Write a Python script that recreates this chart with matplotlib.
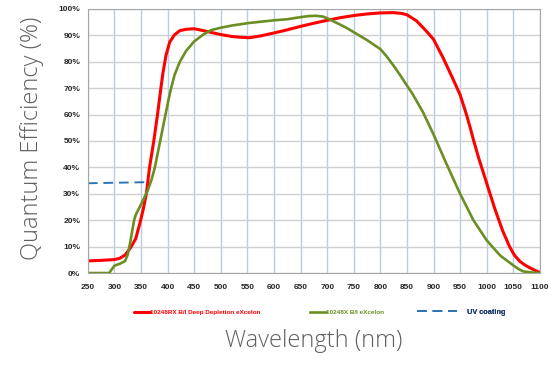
import numpy as np
import matplotlib
matplotlib.use("Agg")
import matplotlib.pyplot as plt

# Red curve: 10248RX B/I Deep Depletion eXcelon
red_nm = [250, 275, 300, 310, 320, 330, 340, 348, 354, 360, 366, 374, 381, 387, 391, 397,
          404, 413, 423, 435, 450, 467, 482, 500, 520, 535, 554, 575, 600, 625, 650, 675,
          700, 725, 750, 775, 800, 825, 840, 850, 868, 887, 900, 918, 937, 950, 962, 970,
          975, 985, 1000, 1015, 1030, 1043, 1052, 1062, 1072, 1081, 1090, 1100]
red_qe = [4.6, 4.8, 5.1, 5.6, 6.8, 9.5, 13.0, 19.0, 24.0, 30.0, 40.0, 50.0, 60.0, 69.5, 75.5, 82.5,
          87.5, 90.2, 91.8, 92.3, 92.5, 91.8, 91.1, 90.3, 89.6, 89.3, 89.1, 89.8, 90.9, 92.1, 93.4, 94.6,
          95.7, 96.7, 97.5, 98.1, 98.5, 98.6, 98.3, 97.8, 95.5, 91.5, 88.5, 81.5, 73.3, 67.5, 60.0, 54.3,
          50.5, 43.5, 34.0, 24.5, 16.0, 10.0, 6.8, 4.5, 3.0, 2.0, 1.1, 0.2]

# Green curve: 10248X B/I eXcelon
green_nm = [250, 290, 300, 310, 320, 325, 330, 337, 340, 345, 350, 356, 363, 370, 376, 381,
            386, 391, 396, 401, 406, 413, 423, 435, 450, 467, 482, 500, 523, 554, 600, 625,
            650, 665, 680, 692, 700, 717, 735, 750, 775, 800, 812, 825, 837, 850, 860, 880,
            900, 924, 950, 975, 1000, 1025, 1050, 1060, 1069, 1085, 1100]
green_qe = [0.0, 0.0, 2.8, 3.5, 4.5, 7.0, 12.0, 20.0, 22.0, 24.0, 26.0, 28.5, 31.5, 35.5, 40.0, 45.0,
            50.0, 55.0, 60.0, 65.0, 69.5, 75.0, 80.0, 84.2, 87.7, 90.3, 92.0, 92.9, 93.8, 94.7, 95.7, 96.1,
            96.9, 97.3, 97.4, 97.1, 96.5, 94.8, 93.0, 91.2, 88.2, 84.8, 82.0, 78.5, 75.0, 71.0, 68.0, 61.0,
            52.5, 41.5, 30.0, 20.0, 12.4, 6.7, 2.9, 1.5, 0.6, 0.2, 0.0]

# UV coating dashed line
uv_nm = [250, 360]
uv_qe = [34.0, 34.4]

x_ticks = list(range(250, 1101, 50))
y_ticks = list(range(0, 101, 10))

fig = plt.figure(figsize=(5.56, 3.73), dpi=100)
ax = fig.add_axes([0.158, 0.268, 0.813, 0.708])

l_red, = ax.plot(red_nm, red_qe, color="#ff0000", lw=2.2, solid_joinstyle="round",
                 solid_capstyle="round")
l_green, = ax.plot(green_nm, green_qe, color="#6b8e23", lw=1.9, solid_joinstyle="round")
l_uv, = ax.plot(uv_nm, uv_qe, color="#2e75b6", lw=1.4, ls=(0, (5, 3)))

ax.set_xlim(250, 1100)
ax.set_ylim(0, 100)
ax.set_xticks(x_ticks)
ax.set_yticks(y_ticks)
ax.set_xticklabels([str(v) for v in x_ticks])
ax.set_yticklabels([f"{v}%" for v in y_ticks])
ax.tick_params(length=0, labelsize=6, colors="#262626")
ax.tick_params(axis="x", pad=8)
ax.tick_params(axis="y", pad=5.5)
for lab in ax.get_xticklabels() + ax.get_yticklabels():
    lab.set_fontweight("bold")
    lab.set_family("Liberation Sans")

ax.xaxis.grid(True, color="#b8cce4", lw=1.0)
ax.yaxis.grid(True, color="#cfcfcf", lw=1.0)
ax.set_axisbelow(True)
for s in ax.spines.values():
    s.set_color("#a6a6a6")
    s.set_linewidth(0.8)

# axis titles
fig.text(0.565, 0.086, "Wavelength (nm)", fontsize=17, color="#5f5f5f", family="Open Sans",
         fontweight="light", ha="center", va="center")
fig.text(0.057, 0.63, "Quantum Efficiency (%)", fontsize=17, color="#5f5f5f", family="Open Sans",
         fontweight="light", ha="center", va="center", rotation=90)

# legend entries, each with its own handle length as in the original
leg_y = -0.148
entries = [
    (l_red, "10248RX B/I Deep Depletion eXcelon", "#ff0000", 0.102, 4.6, 2.5, 0.0),
    (l_green, "10248X B/I eXcelon", "#6b8e23", 0.491, 4.6, 2.6, 0.0),
    (l_uv, "UV coating", "#1f3b70", 0.728, 5.3, 5.4, 1.4),
]
for handle, text, tc, xpos, fs, hl, tp in entries:
    lg = ax.legend([handle], [text], loc="center left", bbox_to_anchor=(xpos, leg_y),
                   frameon=False, borderpad=0, borderaxespad=0,
                   prop={"family": "Liberation Sans", "weight": "bold", "size": fs},
                   handlelength=hl, handletextpad=tp)
    lg.get_texts()[0].set_color(tc)
    ax.add_artist(lg)

fig.savefig("out.png", dpi=100)
